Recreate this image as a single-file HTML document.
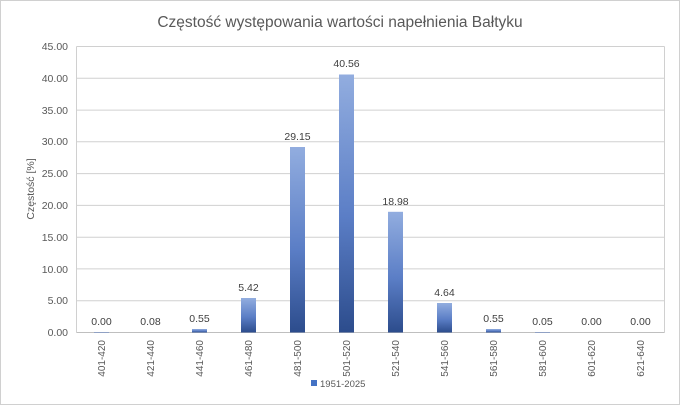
<!DOCTYPE html>
<html><head><meta charset="utf-8"><style>
body{margin:0;background:#fff;}
svg{display:block;font-family:"Liberation Sans",sans-serif;}
</style></head><body>
<svg width="680" height="405" viewBox="0 0 680 405">
<defs><linearGradient id="g" x1="0" y1="0" x2="0" y2="1">
<stop offset="0" stop-color="#92addf"/><stop offset="0.55" stop-color="#5b7ec6"/><stop offset="1" stop-color="#2c4c8c"/></linearGradient></defs>
<rect x="0.5" y="0.5" width="679" height="404" fill="#fff" stroke="#d0d0d0"/>
<text x="340" y="27" text-anchor="middle" font-size="15.5" fill="#595959">Częstość występowania wartości napełnienia Bałtyku</text>
<g stroke="#d0d0d0" stroke-width="1">
<line x1="76.5" x2="664.5" y1="46.5" y2="46.5"/><line x1="76.5" x2="664.5" y1="78.3" y2="78.3"/><line x1="76.5" x2="664.5" y1="110.1" y2="110.1"/><line x1="76.5" x2="664.5" y1="141.8" y2="141.8"/><line x1="76.5" x2="664.5" y1="173.6" y2="173.6"/><line x1="76.5" x2="664.5" y1="205.4" y2="205.4"/><line x1="76.5" x2="664.5" y1="237.2" y2="237.2"/><line x1="76.5" x2="664.5" y1="268.9" y2="268.9"/><line x1="76.5" x2="664.5" y1="300.7" y2="300.7"/>
<line x1="76.5" x2="76.5" y1="46.5" y2="332.5"/><line x1="664.5" x2="664.5" y1="46.5" y2="332.5"/>
</g>
<line x1="76.5" x2="664.5" y1="332.5" y2="332.5" stroke="#bfbfbf"/>
<g font-size="10.5" fill="#595959" text-anchor="end">
<text x="68" y="50">45.00</text><text x="68" y="82">40.00</text><text x="68" y="114">35.00</text><text x="68" y="145">30.00</text><text x="68" y="177">25.00</text><text x="68" y="209">20.00</text><text x="68" y="241">15.00</text><text x="68" y="273">10.00</text><text x="68" y="304">5.00</text><text x="68" y="336">0.00</text>
</g>
<text transform="translate(34,189) rotate(-90)" text-anchor="middle" font-size="10.5" fill="#595959">Częstość [%]</text>
<g fill="url(#g)">
<rect x="94" y="332" width="15" height="0.5"/>
<rect x="192" y="329" width="15" height="3.5"/>
<rect x="241" y="298" width="15" height="34.5"/>
<rect x="290" y="147" width="15" height="185.5"/>
<rect x="339" y="74.5" width="15" height="258"/>
<rect x="388" y="211.8" width="15" height="120.7"/>
<rect x="437" y="303" width="15" height="29.5"/>
<rect x="486" y="329" width="15" height="3.5"/>
<rect x="535" y="332" width="15" height="0.5"/>
</g>
<g font-size="10.5" fill="#404040" text-anchor="middle">
<text x="101.5" y="325">0.00</text><text x="150.5" y="325">0.08</text><text x="199.5" y="322">0.55</text><text x="248.5" y="291">5.42</text><text x="297.5" y="140">29.15</text><text x="346.5" y="67">40.56</text><text x="395.5" y="205">18.98</text><text x="444.5" y="296">4.64</text><text x="493.5" y="322">0.55</text><text x="542.5" y="325">0.05</text><text x="591.5" y="325">0.00</text><text x="640.5" y="325">0.00</text>
</g>
<g font-size="10" fill="#595959" text-anchor="end">
<text transform="translate(105,340) rotate(-90)">401-420</text>
<text transform="translate(154,340) rotate(-90)">421-440</text>
<text transform="translate(203,340) rotate(-90)">441-460</text>
<text transform="translate(252,340) rotate(-90)">461-480</text>
<text transform="translate(301,340) rotate(-90)">481-500</text>
<text transform="translate(350,340) rotate(-90)">501-520</text>
<text transform="translate(399,340) rotate(-90)">521-540</text>
<text transform="translate(448,340) rotate(-90)">541-560</text>
<text transform="translate(497,340) rotate(-90)">561-580</text>
<text transform="translate(546,340) rotate(-90)">581-600</text>
<text transform="translate(595,340) rotate(-90)">601-620</text>
<text transform="translate(644,340) rotate(-90)">621-640</text>
</g>
<rect x="311" y="380" width="6" height="6" fill="#4472c4"/>
<text x="320" y="387" font-size="9.5" fill="#595959">1951-2025</text>
</svg>
</body></html>
